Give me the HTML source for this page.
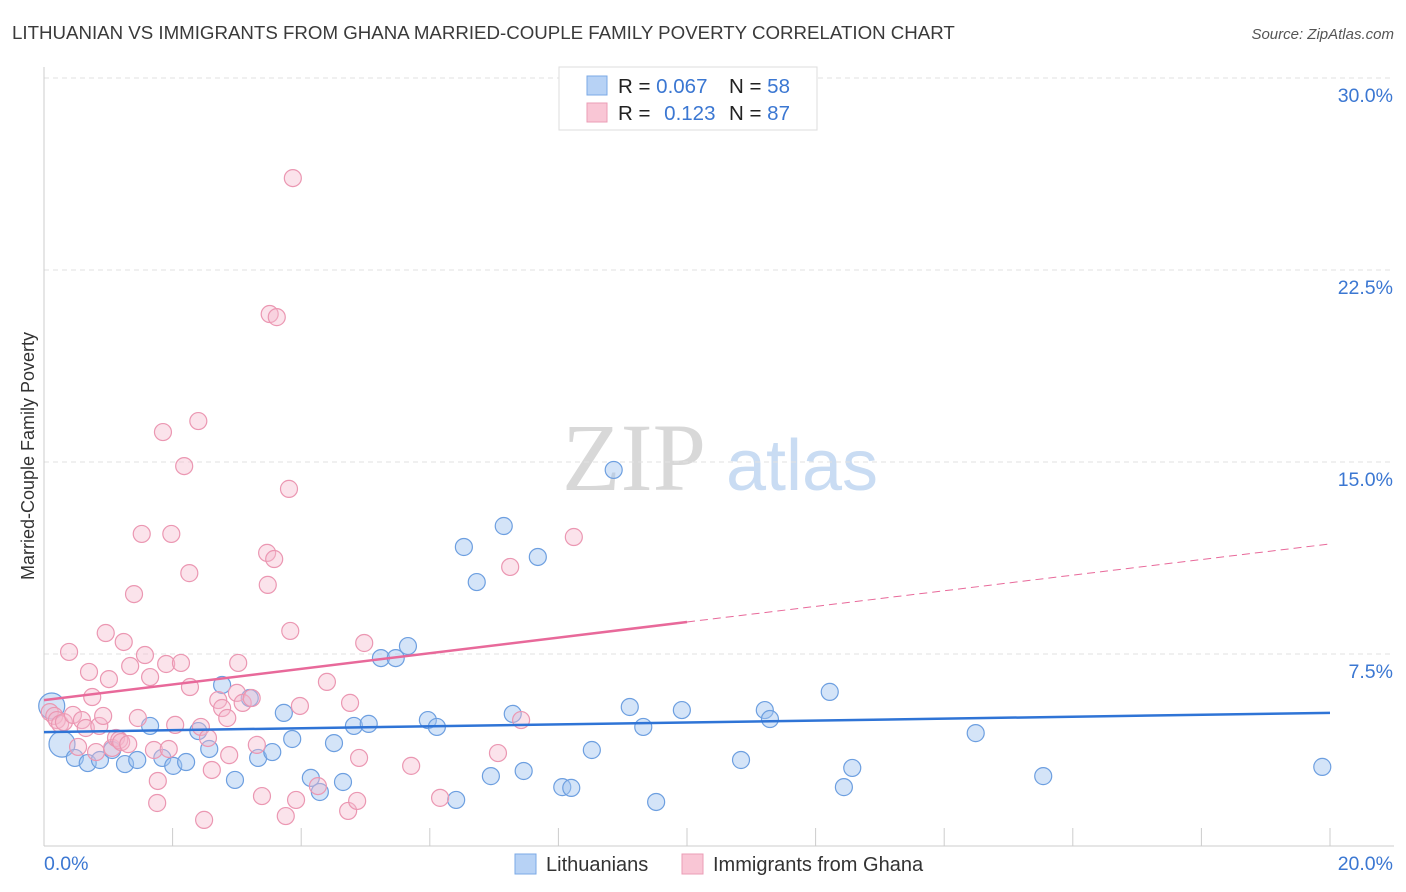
<!DOCTYPE html>
<html><head><meta charset="utf-8"><style>
body{margin:0;background:#fff;font-family:"Liberation Sans",sans-serif;}
svg{display:block}
</style></head><body>
<svg id="chart" width="1406" height="892" xmlns="http://www.w3.org/2000/svg">
<text x="12" y="39" font-size="18.7" fill="#3a3a3a">LITHUANIAN VS IMMIGRANTS FROM GHANA MARRIED-COUPLE FAMILY POVERTY CORRELATION CHART</text>
<text x="1394" y="39" font-size="15" font-style="italic" fill="#555" text-anchor="end">Source: ZipAtlas.com</text>
<text transform="translate(34,456) rotate(-90)" font-size="18" fill="#333" text-anchor="middle">Married-Couple Family Poverty</text>
<g>
<text x="634" y="490" font-size="96" font-family="Liberation Serif,serif" fill="#d8d8d8" text-anchor="middle">ZIP</text>
<text x="802" y="490" font-size="72" fill="#c9dcf3" text-anchor="middle">atlas</text>
</g>
<g id="grid"></g>
<g id="axes"></g>
<g id="marks"></g>
<g id="trends"></g>
<g>
<rect x="559" y="67" width="258" height="63" fill="#fff" stroke="#ddd"/>
<rect x="587" y="76" width="20" height="19" fill="#b7d2f5" stroke="#7ba9e6"/>
<rect x="587" y="103" width="20" height="19" fill="#f9c6d5" stroke="#eb9db6"/>
<text x="618" y="93" font-size="20.5" fill="#222">R = <tspan fill="#3b77d2">0.067</tspan></text>
<text x="729" y="93" font-size="20.5" fill="#222">N = <tspan fill="#3b77d2">58</tspan></text>
<text x="618" y="120" font-size="20.5" fill="#222">R = <tspan fill="#3b77d2" dx="8">0.123</tspan></text>
<text x="729" y="120" font-size="20.5" fill="#222">N = <tspan fill="#3b77d2">87</tspan></text>
</g>
<g>
<rect x="515" y="854" width="21" height="20" fill="#b7d2f5" stroke="#7ba9e6"/>
<text x="546" y="871" font-size="20" fill="#333">Lithuanians</text>
<rect x="682" y="854" width="21" height="20" fill="#f9c6d5" stroke="#eb9db6"/>
<text x="713" y="871" font-size="20" fill="#333">Immigrants from Ghana</text>
</g>
</svg>
<script>
const yTicks=[7.5,15,22.5,30];
const yTickLabels=["7.5%","15.0%","22.5%","30.0%"];
const xTickVals=[2,4,6,8,10,12,14,16,18,20];
const xEndLabels=["0.0%","20.0%"];
const blueX=[0.12,0.28,0.48,0.68,0.87,1.06,1.26,1.45,1.65,1.84,2.01,2.21,2.40,2.57,2.77,2.97,3.20,3.33,3.55,3.73,3.86,4.15,4.29,4.51,4.65,4.82,5.05,5.24,5.47,5.66,5.97,6.11,6.41,6.53,6.73,6.95,7.15,7.29,7.46,7.68,8.06,8.20,8.52,8.86,9.11,9.32,9.52,9.92,10.84,11.21,11.29,12.22,12.44,12.57,14.49,15.54,19.88];
const blueY=[5.47,3.98,3.44,3.24,3.36,3.75,3.20,3.36,4.69,3.44,3.13,3.28,4.49,3.79,6.29,2.58,5.78,3.44,3.67,5.20,4.18,2.66,2.11,4.02,2.50,4.69,4.77,7.34,7.34,7.81,4.92,4.65,1.80,11.68,10.31,2.73,12.50,5.16,2.93,11.29,2.30,2.27,3.75,14.69,5.43,4.65,1.72,5.31,3.36,5.31,4.96,6.02,2.30,3.05,4.41,2.73,3.09];
const pinkX=[0.09,0.16,0.20,0.25,0.31,0.39,0.45,0.53,0.59,0.65,0.70,0.75,0.81,0.86,0.92,0.96,1.01,1.06,1.12,1.17,1.20,1.24,1.31,1.34,1.40,1.46,1.52,1.57,1.65,1.71,1.77,1.76,1.85,1.90,1.94,1.98,2.04,2.13,2.18,2.26,2.27,2.40,2.44,2.49,2.55,2.61,2.71,2.77,2.85,2.88,3.00,3.02,3.09,3.23,3.31,3.39,3.47,3.48,3.51,3.58,3.62,3.76,3.81,3.83,3.87,3.92,3.98,4.26,4.40,4.73,4.76,4.87,4.90,4.98,5.71,6.16,7.06,7.25,7.42,8.24];
const pinkY=[5.23,5.08,4.92,4.77,4.84,7.58,5.12,3.87,4.92,4.61,6.80,5.82,3.67,4.69,5.08,8.32,6.52,3.83,4.22,4.14,4.06,7.97,3.98,7.03,9.84,5.00,12.19,7.46,6.60,3.75,2.54,1.68,16.17,7.11,3.79,12.19,4.73,7.15,14.84,10.66,6.21,16.60,4.65,1.02,4.22,2.97,5.70,5.39,5.00,3.55,5.98,7.15,5.59,5.78,3.95,1.95,11.45,10.20,20.78,11.21,20.66,1.17,13.95,8.40,26.09,1.80,5.47,2.34,6.41,1.37,5.59,1.76,3.44,7.93,3.13,1.88,3.63,10.90,4.92,12.07];
const blueTrend=[4.45,5.2];
const pinkTrend=[5.7,11.8];
const pinkSolidEnd=10;
const NS="http://www.w3.org/2000/svg";
const X=v=>44+v*64.3, Y=v=>846-v*25.6;
function mk(tag,attrs,parent){const e=document.createElementNS(NS,tag);for(const k in attrs)e.setAttribute(k,attrs[k]);document.getElementById(parent).appendChild(e);return e;}
yTicks.forEach((t,i)=>{
 const g=mk('line',{x1:44,x2:1394,y1:Y(t),y2:Y(t),stroke:'#e2e2e2','stroke-dasharray':'5,4'},'grid');
 
 
 const l=mk('text',{x:1393,y:Y(t)+24,'font-size':19.5,fill:'#3b77d2','text-anchor':'end'},'grid');l.textContent=yTickLabels[i];
 
 
});
const ax=mk('line',{x1:44,x2:44,y1:67,y2:846,stroke:'#ccc'},'axes');


const bx=mk('line',{x1:44,x2:1394,y1:846,y2:846,stroke:'#ccc'},'axes');


xTickVals.forEach(t=>{const k=mk('line',{x1:X(t),x2:X(t),y1:828,y2:846,stroke:'#ccc'},'axes');
 
 });
const l0=mk('text',{x:44,y:870,'font-size':19.5,fill:'#3b77d2'},'axes');l0.textContent=xEndLabels[0];


const l1=mk('text',{x:1393,y:870,'font-size':19.5,fill:'#3b77d2','text-anchor':'end'},'axes');l1.textContent=xEndLabels[1];


blueX.forEach((x,i)=>{const r=i<2?13:8.5;const c=mk('circle',{cx:X(x),cy:Y(blueY[i]),r:r,fill:'rgba(160,196,240,0.45)',stroke:'#6d9fe0','stroke-width':1.2},'marks');
 
 });
pinkX.forEach((x,i)=>{const c=mk('circle',{cx:X(x),cy:Y(pinkY[i]),r:8.5,fill:'rgba(246,184,204,0.4)',stroke:'#eb97b2','stroke-width':1.2},'marks');
 
 });
const bt=mk('line',{x1:X(0),y1:Y(blueTrend[0]),x2:X(20),y2:Y(blueTrend[1]),stroke:'#2f74d6','stroke-width':2.5},'trends');


const pm=pinkTrend[0]+(pinkTrend[1]-pinkTrend[0])*pinkSolidEnd/20;
const ps=mk('line',{x1:X(0),y1:Y(pinkTrend[0]),x2:X(pinkSolidEnd),y2:Y(pm),stroke:'#e8699a','stroke-width':2.5},'trends');


const pd=mk('line',{x1:X(pinkSolidEnd),y1:Y(pm),x2:X(20),y2:Y(pinkTrend[1]),stroke:'#e8699a','stroke-width':1,'stroke-dasharray':'8,5'},'trends');


</script>
</body></html>
